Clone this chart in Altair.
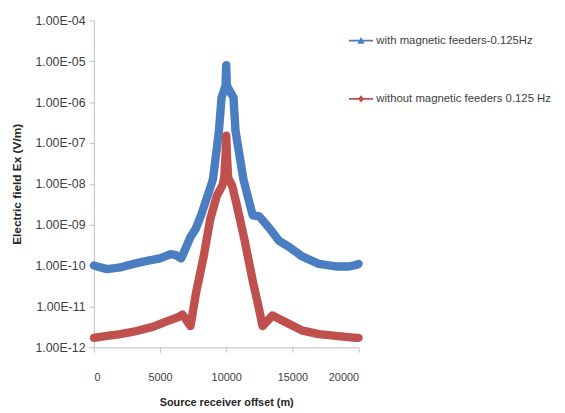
import altair as alt
import pandas as pd

series_names = ["with magnetic feeders-0.125Hz", "without magnetic feeders 0.125 Hz"]

blue_x = [0, 500, 1000, 2000, 2500, 3000, 4000, 5000, 5800, 6200, 6600, 6900, 7300, 7700,
          8100, 8700, 9000, 9450, 9650, 9950, 10000, 10050, 10550, 10700, 11300, 11800,
          12000, 12500, 13300, 14000, 14800, 15700, 17000, 18300, 19300, 19900, 20000]
blue_y = [1.0e-10, 9.0e-11, 8.2e-11, 9.0e-11, 1.0e-10, 1.1e-10, 1.3e-10, 1.5e-10, 1.9e-10,
          1.8e-10, 1.5e-10, 2.5e-10, 5.0e-10, 8.0e-10, 1.7e-9, 6.5e-9, 1.3e-8, 2.0e-7,
          1.3e-6, 2.5e-6, 8.0e-6, 2.5e-6, 1.3e-6, 2.0e-7, 1.3e-8, 3.0e-9, 1.7e-9, 1.6e-9,
          8.0e-10, 4.0e-10, 2.8e-10, 1.7e-10, 1.1e-10, 9.5e-11, 9.5e-11, 1.05e-10, 1.1e-10]

red_x = [0, 1000, 2000, 3000, 4500, 5500, 6400, 6700, 7300, 7700, 8300, 8800, 9300, 9700,
         9850, 9950, 10000, 10050, 10150, 10450, 10800, 11400, 12000, 12500, 12750, 13500,
         14500, 15700, 17000, 18300, 19800, 20000]
red_y = [1.7e-12, 1.9e-12, 2.1e-12, 2.4e-12, 3.2e-12, 4.3e-12, 5.5e-12, 6.3e-12, 3.3e-12,
         2.0e-11, 1.7e-10, 1.4e-9, 5.2e-9, 9.0e-9, 1.4e-8, 5.0e-8, 1.5e-7, 5.0e-8, 1.4e-8,
         9.0e-9, 3.0e-9, 4.0e-10, 4.3e-11, 8.0e-12, 3.3e-12, 6.0e-12, 4.1e-12, 2.6e-12,
         2.1e-12, 1.9e-12, 1.7e-12, 1.7e-12]

y_ticks = [1e-12, 1e-11, 1e-10, 1e-9, 1e-8, 1e-7, 1e-6, 1e-5, 1e-4]
x_ticks = [0, 5000, 10000, 15000, 20000]
colors = ["#4A7EC1", "#C0504D"]

tri_path = "M-1,-0.07L1,-0.07L1,0.07L-1,0.07Z M-0.3,0.25L0,-0.3L0.3,0.25Z"
dia_path = "M-1,-0.07L1,-0.07L1,0.07L-1,0.07Z M0,-0.3L0.25,0L0,0.3L-0.25,0Z"

rows = []
for i, (x, y) in enumerate(zip(blue_x, blue_y)):
    rows.append({"x": x, "y": y, "series": series_names[0], "order": i})
for i, (x, y) in enumerate(zip(red_x, red_y)):
    rows.append({"x": x, "y": y, "series": series_names[1], "order": i})
df = pd.DataFrame(rows)

FONT = "Liberation Sans"

x_enc = alt.X("x:Q", scale=alt.Scale(domain=[0, 20000], nice=False),
              axis=alt.Axis(values=x_ticks, title="Source receiver offset (m)", grid=False,
                            format="d", labelPadding=20, titlePadding=14))
y_enc = alt.Y("y:Q", scale=alt.Scale(type="log", domain=[1e-12, 1e-4], nice=False),
              axis=alt.Axis(values=y_ticks, title="Electric field Ex (V/m)", grid=False,
                            labelExpr="'1.00E-' + (round(-log(datum.value)/LN10) < 10 ? '0' : '') + round(-log(datum.value)/LN10)",
                            labelPadding=4, titlePadding=12, titleFontSize=12, labelFontSize=12.5))

legend = alt.Legend(title=None, orient="none", legendX=258, legendY=8,
                    symbolSize=600, rowPadding=41, labelOffset=3,
                    labelFontSize=11.5, labelColor="#404040", labelFont=FONT,
                    padding=0, symbolStrokeWidth=0, labelLimit=300)
color_enc = alt.Color("series:N", scale=alt.Scale(domain=series_names, range=colors), legend=legend)
shape_enc = alt.Shape("series:N", scale=alt.Scale(domain=series_names, range=[tri_path, dia_path]),
                      legend=legend)

line = alt.Chart(df).mark_line(strokeWidth=8.5, strokeJoin="round", strokeCap="round").encode(
    x=x_enc, y=y_enc, color=color_enc, detail="series:N", order="order:Q")
points = alt.Chart(df).mark_point(filled=True, size=60, opacity=1).encode(
    x=x_enc, y=y_enc, color=color_enc, shape=shape_enc)

chart = alt.layer(line, points).properties(
    width=268, height=331, padding={"left": 2, "top": 4, "right": 5, "bottom": 5}
).configure_view(stroke=None).configure_axis(
    domainColor="#BFBFBF", tickColor="#BFBFBF", tickSize=5, labelFont=FONT, labelFontSize=11,
    labelColor="#404040", titleFont=FONT, titleFontSize=11, titleFontWeight="bold",
    titleColor="#262626"
)

chart.save("out.html", embed_options={"renderer": "svg", "actions": False})
